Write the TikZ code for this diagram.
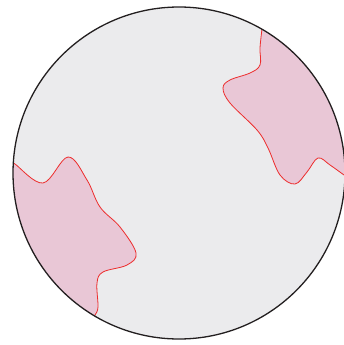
\documentclass[tikz,border=0pt]{standalone}
\usepackage{tikz}
\definecolor{diskgray}{RGB}{235,235,237}
\definecolor{patchpink}{RGB}{233,199,214}
\definecolor{patchred}{RGB}{237,45,45}
\definecolor{rimblack}{RGB}{35,31,32}
\tikzset{
  disk/.style={fill=diskgray},
  patchfill/.style={fill=patchpink},
  patchedge/.style={draw=patchred, line width=0.8pt},
  rim/.style={draw=rimblack, line width=1.3pt}
}

\begin{document}
\begin{tikzpicture}[x=1pt, y=-1pt]
  \useasboundingbox (0,0) rectangle (344,345);
  \coordinate (c) at (179,173);
  \fill[disk] (c) circle (166);
  \begin{scope}
    \clip (c) circle (166);
    % left patch
    \fill[patchfill] plot[smooth, tension=0.6] coordinates {(15,164) (43,183) (68,157) (87,180) (100,207) (120,227) (136,253) (127,265) (103,272) (97,283) (98,307) (95,315)}
      -- (100,345) -- (0,345) -- (0,164) -- cycle;
    \draw[patchedge] plot[smooth, tension=0.6] coordinates {(12,162) (15,164) (43,183) (68,157) (87,180) (100,207) (120,227) (136,253) (127,265) (103,272) (97,283) (98,307) (95,315) (92,320)};
    % right patch
    \fill[patchfill] plot[smooth, tension=0.6] coordinates {(262,28) (260,48) (260,65) (250,73) (230,80) (223,88) (230,103) (257,130) (268,148) (280,175) (295,184) (307,172) (318,158) (330,165) (344,175)}
      -- (350,175) -- (350,0) -- (262,0) -- cycle;
    \draw[patchedge] plot[smooth, tension=0.6] coordinates {(262,22) (262,28) (260,48) (260,65) (250,73) (230,80) (223,88) (230,103) (257,130) (268,148) (280,175) (295,184) (307,172) (318,158) (330,165) (344,175) (350,179)};
  \end{scope}
  \draw[rim] (c) circle (166);
\end{tikzpicture}
\end{document}
